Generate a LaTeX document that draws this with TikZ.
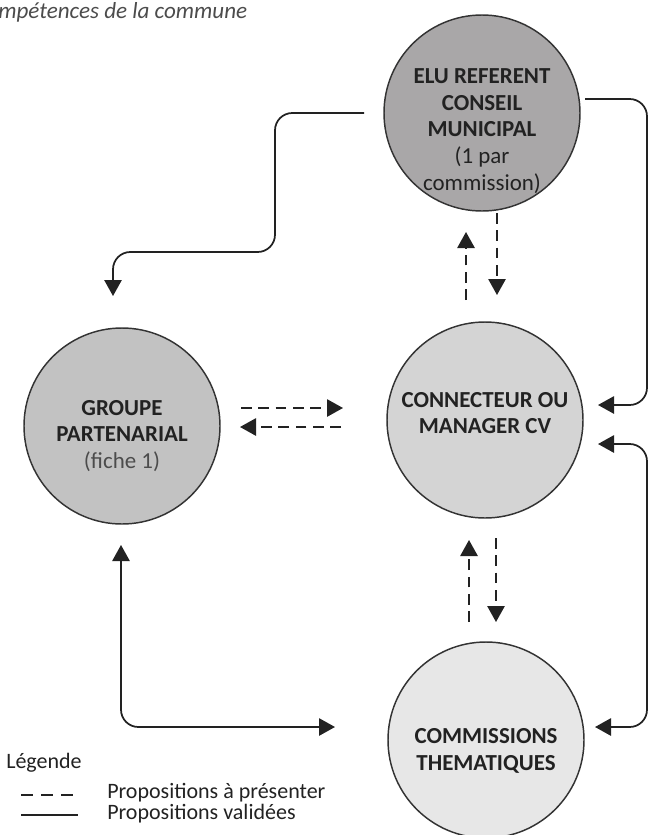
\documentclass[tikz,border=0pt]{standalone}
\usepackage{fontspec}
\setmainfont{Carlito}
\usetikzlibrary{arrows.meta,calc}
\definecolor{ink}{HTML}{222222}
\definecolor{edge}{HTML}{333333}
\definecolor{cElu}{HTML}{A9A7A8}
\definecolor{cGrp}{HTML}{C2C2C2}
\definecolor{cCon}{HTML}{D4D4D4}
\definecolor{cCom}{HTML}{E7E7E7}
\begin{document}
\begin{tikzpicture}[x=0.75pt,y=-0.75pt,
  circ/.style={circle, draw=edge, line width=1.1pt, minimum size=147pt, inner sep=0pt},
  lbl/.style={align=center, text=ink, inner sep=0pt, font=\fontsize{17.2}{20}\selectfont\bfseries},
  conn/.style={draw=ink, line width=1.3pt},
  tip/.style={-{Triangle[length=12pt,width=13pt]}},
  dtip/.style={{Triangle[length=12pt,width=13pt]}-{Triangle[length=12pt,width=13pt]}},
  dsh/.style={conn, tip, dash pattern=on 8pt off 5pt},
  plain/.style={text=ink, inner sep=0pt, anchor=west, font=\fontsize{16.5}{18}\selectfont}]
\useasboundingbox (0,0) rectangle (648,835);

% header
\node[plain, text=black!70, font=\fontsize{17.3}{18}\selectfont\itshape] (head) at (-2,12) {mpétences de la commune};

% circles
\node[circ, fill=cElu] (elu) at (482,113) {};
\node[circ, fill=cGrp] (grp) at (122,426) {};
\node[circ, fill=cCon] (con) at (485,420) {};
\node[circ, fill=cCom] (com) at (486,740) {};

\node[lbl] (elut) at (482,131) {ELU REFERENT\\CONSEIL\\MUNICIPAL\\{\mdseries (1 par}\\{\mdseries commission)}};
\node[lbl] (grpt) at (122,436) {GROUPE\\PARTENARIAL\\{\mdseries\color{black!70}(fiche 1)}};
\node[lbl] (cont) at (485,413) {CONNECTEUR OU\\MANAGER CV};
\node[lbl] (comt) at (486,751) {COMMISSIONS\\THEMATIQUES};

% connector end points
\coordinate (a1) at (466,300); \coordinate (a2) at (466,232);
\coordinate (b1) at (497,213); \coordinate (b2) at (497,295);
\coordinate (c1) at (241,408); \coordinate (c2) at (343,408);
\coordinate (d1) at (341,427); \coordinate (d2) at (240,427);
\coordinate (e1) at (469,622); \coordinate (e2) at (469,540);
\coordinate (f1) at (496,538); \coordinate (f2) at (496,622);

\draw[dsh] (a1) -- (a2);
\draw[dsh] (b1) -- (b2);
\draw[dsh] (c1) -- (c2);
\draw[dsh] (d1) -- (d2);
\draw[dsh] (e1) -- (e2);
\draw[dsh] (f1) -- (f2);

% solid connectors
\coordinate (g1) at (364,113); \coordinate (g2) at (113,296);
\draw[conn, tip, rounded corners=13pt] (g1) -- (275,113) -- (275,252) -- (113,252) -- (g2);

\coordinate (h1) at (585,99); \coordinate (h2) at (598,405);
\draw[conn, tip, rounded corners=13pt] (h1) -- (647,99) -- (647,405) -- (h2);

\coordinate (i1) at (598,444); \coordinate (i2) at (595,727);
\draw[conn, dtip, rounded corners=13pt] (i1) -- (647,444) -- (647,727) -- (i2);

\coordinate (j1) at (121,545); \coordinate (j2) at (335,727);
\draw[conn, dtip, rounded corners=13pt] (j1) -- (121,727) -- (j2);

% legend
\node[plain] (leg) at (6,763) {Légende};
\coordinate (k1) at (21,795); \coordinate (k2) at (78,795);
\draw[draw=ink, line width=1pt, dash pattern=on 9pt off 6pt] (k1) -- (k2);
\node[plain] (legd) at (107,793) {Propositions à présenter};
\coordinate (l1) at (21,815); \coordinate (l2) at (78,815);
\draw[draw=ink, line width=1pt] (l1) -- (l2);
\node[plain] (legs) at (107,814) {Propositions validées};
\end{tikzpicture}
\end{document}
